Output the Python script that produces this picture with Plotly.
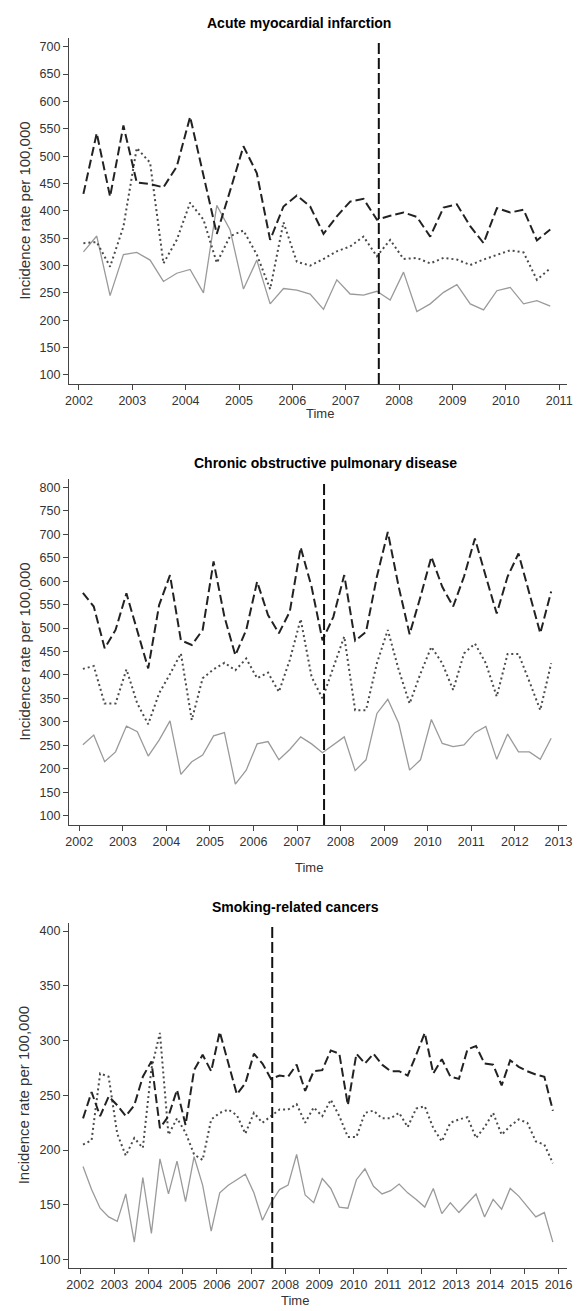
import plotly.graph_objects as go

# ---------------- data ----------------
quarter_offsets = [1/12, 4/12, 7/12, 10/12]  # Feb, May, Aug, Nov

ami_start, ami_n = 2002, 36
ami_dashed = [431, 542, 426, 556, 452, 449, 443, 481, 572, 465, 358, 437, 518, 469, 347, 408,
              428, 408, 358, 390, 417, 422, 384, 391, 397, 389, 353, 406, 412, 372, 341, 405,
              397, 402, 346, 366]
ami_dotted = [341, 343, 298, 371, 515, 488, 304, 347, 415, 384, 305, 354, 364, 320, 257, 379,
              307, 300, 312, 326, 335, 353, 317, 347, 312, 314, 304, 314, 311, 301, 311, 320,
              328, 324, 274, 295]
ami_solid = [325, 354, 245, 320, 324, 310, 271, 286, 293, 250, 410, 365, 257, 310, 230, 258,
             255, 248, 220, 274, 248, 246, 253, 237, 288, 216, 230, 251, 265, 230, 219, 254,
             260, 230, 236, 226]

copd_start, copd_n = 2002, 44
copd_dashed = [575, 546, 457, 496, 574, 496, 414, 549, 613, 474, 464, 496, 642, 524, 442, 496,
               599, 528, 489, 535, 672, 588, 474, 524, 613, 473, 492, 610, 705, 588, 487, 567,
               652, 588, 546, 610, 691, 610, 531, 610, 659, 574, 489, 578]
copd_dotted = [413, 419, 339, 339, 412, 339, 295, 361, 402, 446, 304, 393, 412, 426, 410, 435,
               393, 405, 364, 432, 519, 396, 350, 418, 482, 325, 325, 425, 496, 411, 339, 403,
               460, 425, 368, 446, 467, 425, 354, 445, 445, 386, 325, 425]
copd_solid = [251, 272, 215, 236, 291, 279, 227, 261, 302, 188, 215, 229, 270, 277, 167, 197,
              253, 258, 219, 241, 268, 253, 234, 251, 268, 196, 219, 318, 348, 297, 197, 219,
              305, 254, 247, 251, 277, 290, 220, 274, 236, 236, 220, 265]

src_start, src_n = 2002, 56
src_dashed = [229, 253, 231, 249, 241, 231, 241, 267, 281, 220, 231, 255, 223, 273, 287, 272,
              308, 280, 251, 261, 288, 279, 265, 268, 267, 278, 254, 272, 273, 291, 288, 241,
              288, 279, 288, 278, 272, 272, 268, 287, 307, 270, 283, 267, 265, 292, 295, 279,
              278, 259, 282, 276, 272, 269, 267, 236]
src_dotted = [205, 209, 270, 267, 215, 195, 211, 202, 274, 307, 214, 229, 216, 196, 191, 228,
              234, 237, 232, 215, 234, 225, 231, 237, 237, 242, 225, 239, 231, 246, 231, 212,
              212, 234, 236, 229, 229, 234, 221, 238, 240, 220, 208, 225, 228, 230, 211, 221,
              234, 214, 222, 228, 225, 208, 205, 188]
src_solid = [185, 164, 147, 139, 135, 160, 116, 175, 124, 192, 160, 190, 153, 194, 168, 126,
             161, 168, 173, 178, 161, 136, 152, 164, 168, 196, 159, 152, 174, 165, 148, 147,
             173, 183, 167, 160, 163, 169, 161, 155, 148, 165, 142, 152, 143, 152, 160, 139,
             155, 146, 165, 158, 148, 139, 143, 116]

intervention_time = 2007.62

titles = ["Acute myocardial infarction", "Chronic obstructive pulmonary disease", "Smoking-related cancers"]
y_ticks = [list(range(100, 701, 50)), list(range(100, 801, 50)), list(range(100, 401, 50))]
x_ticks = [list(range(2002, 2012)), list(range(2002, 2014)), list(range(2002, 2017))]
x_ranges = [[2001.815, 2011.15], [2001.767, 2013.2], [2001.675, 2016.25]]
y_ranges = [[83.5, 716], [80, 818], [92.4, 407.3]]


def times(start, n):
    return [start + (i // 4) + quarter_offsets[i % 4] for i in range(n)]


panels = [
    (times(ami_start, ami_n), ami_dashed, ami_dotted, ami_solid),
    (times(copd_start, copd_n), copd_dashed, copd_dotted, copd_solid),
    (times(src_start, src_n), src_dashed, src_dotted, src_solid),
]

# ---------------- layout geometry (window pixels; page body has an 8px margin) ----------------
OFF = 8
W, H = 581 - OFF, 1311 - OFF
x_left, x_right = 66, 572
panel_px = [(38, 384), (479, 825), (923, 1268)]  # top, bottom of plot area (window coords)
title_pos = [(300, 23), (326, 463), (296, 907)]
time_pos = [(321, 413), (310, 867), (296, 1300)]


def px(x):
    return (x - OFF) / W


def py(y):
    return 1 - (y - OFF) / H


fig = go.Figure()
layout = dict(
    width=W, height=H,
    margin=dict(l=0, r=0, t=0, b=0),
    paper_bgcolor="white", plot_bgcolor="white",
    showlegend=False,
    font=dict(family="Liberation Sans, Arial, sans-serif", color="#333333", size=12),
)
annotations = []
shapes = []

for k, (t, dashed, dotted, solid) in enumerate(panels):
    xa = "x" if k == 0 else f"x{k+1}"
    ya = "y" if k == 0 else f"y{k+1}"
    top, bot = panel_px[k]
    ydom = [py(bot), py(top)]
    xdom = [px(x_left), px(x_right)]
    axis_common = dict(
        showline=True, linecolor="#444444", linewidth=1.3,
        ticks="outside", ticklen=5, tickcolor="#444444", tickwidth=1.2,
        showgrid=False, zeroline=False,
        tickfont=dict(size=12.5, color="#333333"),
        ticklabeloverflow="allow",
    )
    layout["xaxis" if k == 0 else f"xaxis{k+1}"] = dict(
        domain=xdom, range=x_ranges[k], tickvals=x_ticks[k],
        ticktext=[str(v) for v in x_ticks[k]], anchor=ya, **axis_common)
    layout["yaxis" if k == 0 else f"yaxis{k+1}"] = dict(
        domain=ydom, range=y_ranges[k], tickvals=y_ticks[k], anchor=xa, **axis_common)

    fig.add_trace(go.Scatter(x=t, y=solid, mode="lines", xaxis=xa, yaxis=ya,
                             line=dict(color="#9a9a9a", width=1.3)))
    fig.add_trace(go.Scatter(x=t, y=dotted, mode="lines", xaxis=xa, yaxis=ya,
                             line=dict(color="#4a4a4a", width=2, dash="2px,3px")))
    fig.add_trace(go.Scatter(x=t, y=dashed, mode="lines", xaxis=xa, yaxis=ya,
                             line=dict(color="#222222", width=2, dash="9px,4px")))

    shapes.append(dict(type="line", xref=xa, yref=f"{ya} domain",
                       x0=intervention_time, x1=intervention_time, y0=0, y1=0.99,
                       line=dict(color="#111111", width=2, dash="11px,4px")))

    annotations.append(dict(text=f"<b>{titles[k]}</b>", xref="paper", yref="paper",
                            x=px(title_pos[k][0]), y=py(title_pos[k][1]),
                            showarrow=False, xanchor="center", yanchor="middle",
                            font=dict(size=14, color="#000000")))
    annotations.append(dict(text="Time", xref="paper", yref="paper",
                            x=px(time_pos[k][0]), y=py(time_pos[k][1]),
                            showarrow=False, xanchor="center", yanchor="middle",
                            font=dict(size=13, color="#333333")))
    annotations.append(dict(text="Incidence rate per 100,000", xref="paper", yref="paper",
                            x=px(20), y=py((top + bot) / 2), textangle=-90,
                            showarrow=False, xanchor="center", yanchor="middle",
                            font=dict(size=15, color="#333333")))

layout["annotations"] = annotations
layout["shapes"] = shapes
fig.update_layout(**layout)
fig.write_html("out.html")
